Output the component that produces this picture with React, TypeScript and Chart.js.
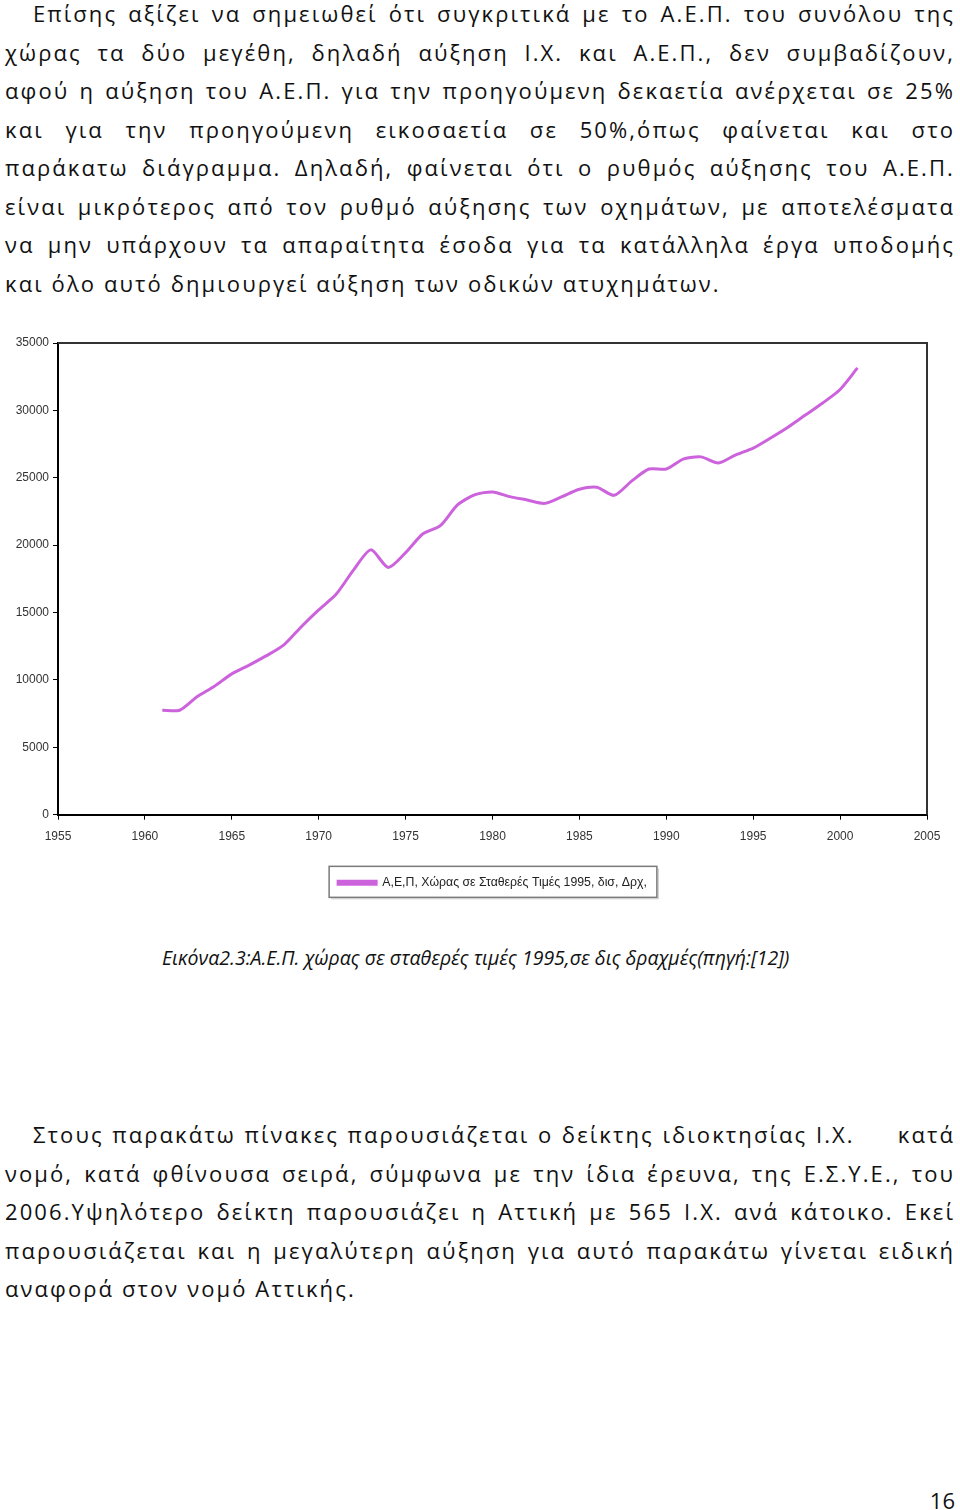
import React, { useEffect, useRef } from "react";
import { Chart, registerables } from "chart.js";

Chart.register(...registerables);

const years = [1961, 1962, 1963, 1964, 1965, 1966, 1967, 1968, 1969, 1970, 1971, 1972, 1973, 1974, 1975, 1976, 1977, 1978, 1979, 1980, 1981, 1982, 1983, 1984, 1985, 1986, 1987, 1988, 1989, 1990, 1991, 1992, 1993, 1994, 1995, 1996, 1997, 1998, 1999, 2000, 2001];
const gdpValues = [7750, 7750, 8750, 9530, 10450, 11100, 11800, 12600, 13950, 15200, 16350, 18150, 19650, 18350, 19450, 20850, 21450, 23000, 23750, 23950, 23600, 23350, 23100, 23600, 24150, 24300, 23700, 24750, 25650, 25650, 26400, 26550, 26100, 26700, 27200, 27950, 28750, 29650, 30550, 31550, 33150];
const seriesLabel = "Α,Ε,Π, Χώρας σε Σταθερές Τιμές 1995, δισ, Δρχ,";
const xMin = 1955;
const xMax = 2005;
const yMax = 35000;

const para1 = [
  "Επίσης αξίζει να σημειωθεί ότι συγκριτικά με το Α.Ε.Π. του συνόλου της",
  "χώρας τα δύο μεγέθη, δηλαδή αύξηση Ι.Χ. και Α.Ε.Π., δεν συμβαδίζουν,",
  "αφού η αύξηση του Α.Ε.Π. για την προηγούμενη δεκαετία ανέρχεται σε 25%",
  "και για την προηγούμενη εικοσαετία σε 50%,όπως φαίνεται και στο",
  "παράκατω διάγραμμα. Δηλαδή, φαίνεται ότι ο ρυθμός αύξησης του Α.Ε.Π.",
  "είναι μικρότερος από τον ρυθμό αύξησης των οχημάτων, με αποτελέσματα",
  "να μην υπάρχουν τα απαραίτητα έσοδα για τα κατάλληλα έργα υποδομής",
  "και όλο αυτό δημιουργεί αύξηση των οδικών ατυχημάτων.",
];
const caption = "Εικόνα2.3:Α.Ε.Π. χώρας σε σταθερές τιμές 1995,σε δις δραχμές(πηγή:[12])";
const para2 = [
  "Στους παρακάτω πίνακες παρουσιάζεται ο δείκτης ιδιοκτησίας Ι.Χ.\u00a0\u00a0\u00a0\u00a0 κατά",
  "νομό, κατά φθίνουσα σειρά, σύμφωνα με την ίδια έρευνα, της Ε.Σ.Υ.Ε., του",
  "2006.Υψηλότερο δείκτη παρουσιάζει η Αττική με 565 Ι.Χ. ανά κάτοικο. Εκεί",
  "παρουσιάζεται και η μεγαλύτερη αύξηση για αυτό παρακάτω γίνεται ειδική",
  "αναφορά στον νομό Αττικής.",
];
const pageNumber = "16";

const textFont = "'Open Sans', 'Noto Sans', sans-serif";
const chartFont = "'Liberation Sans', Arial, sans-serif";
const legendFontSize = 12.3;
const legendBoxWidth = 38;

function Paragraph({ lines, top }: { lines: string[]; top: number }) {
  return (
    <div style={{ position: "absolute", left: 5, top, width: 950 }}>
      {lines.map((l, i) => {
        const last = i === lines.length - 1;
        return (
          <div
            key={i}
            style={{
              height: 38.5,
              lineHeight: "38.5px",
              fontSize: 22,
              letterSpacing: 2.1,
              color: "#111",
              whiteSpace: "pre",
              textAlign: last ? "left" : "justify",
              textAlignLast: last ? "left" : "justify",
              paddingLeft: i === 0 ? 28 : 0,
              fontFamily: textFont,
            }}
          >
            {l}
          </div>
        );
      })}
    </div>
  );
}

export default function App() {
  const ref = useRef<HTMLCanvasElement>(null);
  useEffect(() => {
    const prev = document.body.style.margin;
    document.body.style.margin = "0";
    if (!ref.current) return;
    const framePlugin = {
      id: "frame",
      afterUpdate(chart: any) {
        const lg = chart.legend;
        if (lg && chart.chartArea) {
          const shift = (chart.chartArea.left + chart.chartArea.right) / 2 - (lg.left + lg.right) / 2;
          lg.left += shift;
          lg.right += shift;
          lg.adjustHitBoxes();
        }
      },
      afterDraw(chart: any) {
        const { ctx, chartArea } = chart;
        ctx.save();
        ctx.strokeStyle = "#333";
        ctx.lineWidth = 2;
        ctx.beginPath();
        ctx.moveTo(chartArea.left, chartArea.top);
        ctx.lineTo(chartArea.right, chartArea.top);
        ctx.lineTo(chartArea.right, chartArea.bottom);
        ctx.stroke();
        const lg = chart.legend;
        if (lg) {
          ctx.font = `${legendFontSize}px ${chartFont}`;
          const textW = ctx.measureText(seriesLabel).width;
          const itemW = legendBoxWidth + legendFontSize / 2 + textW;
          const cx = (chartArea.left + chartArea.right) / 2;
          const left = cx - itemW / 2 - 9;
          const right = cx + itemW / 2 + 10;
          const cy = lg.top + lg.height / 2 - 1;
          const top = cy - 15.5;
          const bottom = cy + 15.5;
          ctx.strokeStyle = "#7a7a7a";
          ctx.lineWidth = 1.5;
          ctx.strokeRect(left, top, right - left, bottom - top);
          ctx.strokeStyle = "rgba(0,0,0,0.2)";
          ctx.lineWidth = 1;
          ctx.beginPath();
          ctx.moveTo(left + 2, bottom + 1.5);
          ctx.lineTo(right + 1.5, bottom + 1.5);
          ctx.lineTo(right + 1.5, top + 2);
          ctx.stroke();
        }
        ctx.restore();
      },
    };
    const chart = new Chart(ref.current, {
      type: "line",
      data: {
        datasets: [
          {
            label: seriesLabel,
            data: years.map((y, i) => ({ x: y, y: gdpValues[i] })),
            borderColor: "#cc63dc",
            backgroundColor: "#cc63dc",
            borderWidth: 3,
            pointRadius: 0,
            tension: 0.25,
          },
        ],
      },
      options: {
        animation: false,
        responsive: false,
        maintainAspectRatio: false,
        layout: { padding: { left: 8, right: 33, top: 13, bottom: 11 } },
        plugins: {
          legend: {
            position: "bottom",
            labels: {
              boxWidth: legendBoxWidth,
              boxHeight: 3,
              font: { family: chartFont, size: legendFontSize },
              color: "#222",
              padding: 10,
            },
          },
          tooltip: { enabled: false },
        },
        scales: {
          x: {
            type: "linear",
            min: xMin,
            max: xMax,
            afterFit: (s: any) => {
              s.height = 52;
            },
            ticks: {
              stepSize: 5,
              callback: (v: any) => String(v),
              font: { family: chartFont, size: 12 },
              color: "#333",
              padding: 10,
              maxRotation: 0,
            },
            grid: { drawOnChartArea: false, drawTicks: true, tickLength: 5, color: "#000", lineWidth: 1 },
            border: { display: true, color: "#000", width: 2 },
          },
          y: {
            min: 0,
            max: yMax,
            afterFit: (s: any) => {
              s.width = 50;
            },
            ticks: {
              stepSize: 5000,
              callback: (v: any) => String(v),
              font: { family: chartFont, size: 12 },
              color: "#333",
              padding: 4,
            },
            grid: { drawOnChartArea: false, drawTicks: true, tickLength: 5, color: "#000", lineWidth: 1 },
            border: { display: true, color: "#000", width: 2 },
          },
        },
      },
      plugins: [framePlugin],
    });
    return () => {
      chart.destroy();
      document.body.style.margin = prev;
    };
  }, []);

  return (
    <div style={{ position: "relative", width: 960, height: 1510, background: "#fff", fontFamily: textFont }}>
      <Paragraph lines={para1} top={-6} />
      <canvas ref={ref} width={960} height={580} style={{ position: "absolute", left: 0, top: 330, width: 960, height: 580 }} />
      <div
        style={{
          position: "absolute",
          left: 162,
          top: 944,
          fontSize: 19.5,
          fontStyle: "italic",
          color: "#111",
          whiteSpace: "pre",
          lineHeight: "28px",
          fontFamily: textFont,
        }}
      >
        {caption}
      </div>
      <Paragraph lines={para2} top={1115} />
      <div
        style={{
          position: "absolute",
          right: 5,
          top: 1486,
          fontSize: 22,
          color: "#111",
          lineHeight: "28px",
          fontFamily: textFont,
        }}
      >
        {pageNumber}
      </div>
    </div>
  );
}
